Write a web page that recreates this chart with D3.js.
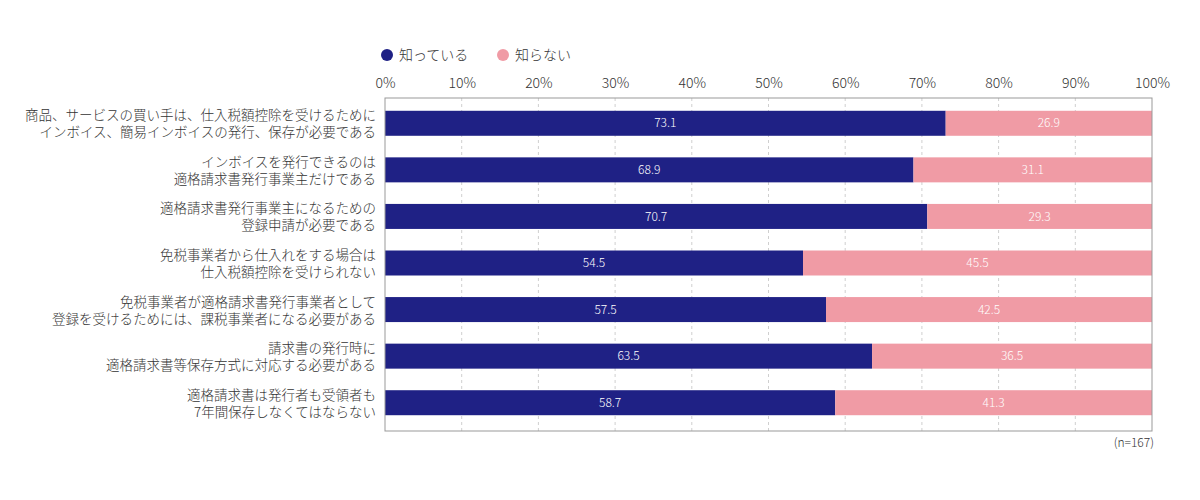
<!DOCTYPE html>
<html>
<head>
<meta charset="utf-8">
<script src="https://cdn.jsdelivr.net/npm/d3@7/dist/d3.min.js"></script>
<style>
  html, body { margin: 0; padding: 0; background: #fff; }
  svg text { font-family: "Noto Sans CJK JP", "Noto Sans", sans-serif; font-weight: 300; }
</style>
</head>
<body>
<div id="chart"></div>
<script>
// 設問（2行ずつ）
const categories = [
  ['商品、サービスの買い手は、仕入税額控除を受けるために', 'インボイス、簡易インボイスの発行、保存が必要である'],
  ['インボイスを発行できるのは', '適格請求書発行事業主だけである'],
  ['適格請求書発行事業主になるための', '登録申請が必要である'],
  ['免税事業者から仕入れをする場合は', '仕入税額控除を受けられない'],
  ['免税事業者が適格請求書発行事業者として', '登録を受けるためには、課税事業者になる必要がある'],
  ['請求書の発行時に', '適格請求書等保存方式に対応する必要がある'],
  ['適格請求書は発行者も受領者も', '7年間保存しなくてはならない']
]
const seriesNames = ['知っている', '知らない']
const knowValues = [73.1, 68.9, 70.7, 54.5, 57.5, 63.5, 58.7]
const unknownValues = [26.9, 31.1, 29.3, 45.5, 42.5, 36.5, 41.3]
const tickValues = [0, 10, 20, 30, 40, 50, 60, 70, 80, 90, 100]
const sampleNote = '(n=167)'

const width = 1200
const height = 500
const colors = ['#1f2185', '#f09ba5']
const box = { left: 385, right: 1152, top: 98, bottom: 431 }
const barHeight = 25

const svg = d3.select('#chart')
  .append('svg')
  .attr('width', width)
  .attr('height', height)

const x = d3.scaleLinear().domain([0, 100]).range([box.left, box.right])
const y = d3.scaleBand()
  .domain(d3.range(categories.length))
  .range([box.top + 2, box.bottom - 5])

// 破線グリッド
svg.append('g')
  .selectAll('line')
  .data(tickValues.slice(1, -1))
  .enter()
  .append('line')
  .attr('x1', d => x(d))
  .attr('x2', d => x(d))
  .attr('y1', box.top)
  .attr('y2', box.bottom)
  .attr('stroke', '#cfcfcf')
  .attr('stroke-width', 1)
  .attr('stroke-dasharray', '3,3')

// 上部の目盛りラベル
const axis = d3.axisTop(x)
  .tickValues(tickValues)
  .tickFormat(d => d + '%')
  .tickSize(0)
  .tickPadding(0)
const axisG = svg.append('g')
  .attr('transform', `translate(0, ${box.top - 10})`)
  .call(axis)
axisG.select('.domain').remove()
axisG.selectAll('text')
  .attr('font-size', 14)
  .attr('fill', '#333')
  .style('font-family', '"Noto Sans CJK JP", sans-serif')
  .style('font-weight', 300)

// 積み上げデータ
const rows = knowValues.map((v, i) => ({ i, values: [v, unknownValues[i]] }))

const rowG = svg.append('g')
  .selectAll('g')
  .data(rows)
  .enter()
  .append('g')
  .attr('transform', d => `translate(0, ${y(d.i) + y.bandwidth() / 2 - barHeight / 2})`)

rowG.each(function (d) {
  const g = d3.select(this)
  let acc = 0
  d.values.forEach((v, k) => {
    const x0 = x(acc)
    const x1 = x(acc + v)
    g.append('rect')
      .attr('x', x0)
      .attr('y', 0)
      .attr('width', x1 - x0)
      .attr('height', barHeight)
      .attr('fill', colors[k])
    g.append('text')
      .attr('x', (x0 + x1) / 2)
      .attr('y', barHeight / 2)
      .attr('dy', '0.35em')
      .attr('text-anchor', 'middle')
      .attr('font-size', 12)
      .attr('fill', '#fff')
      .text(v.toFixed(1))
    acc += v
  })
})

// 枠線
svg.append('rect')
  .attr('x', box.left)
  .attr('y', box.top)
  .attr('width', box.right - box.left)
  .attr('height', box.bottom - box.top)
  .attr('fill', 'none')
  .attr('stroke', '#999')
  .attr('stroke-width', 1)

// 左の設問ラベル
const labelG = svg.append('g')
  .selectAll('text')
  .data(categories)
  .enter()
  .append('text')
  .attr('text-anchor', 'end')
  .attr('font-size', 13.5)
  .attr('fill', '#333')
labelG.each(function (d, i) {
  const cy = y(i) + y.bandwidth() / 2
  d3.select(this).selectAll('tspan')
    .data(d)
    .enter()
    .append('tspan')
    .attr('x', 376)
    .attr('y', (t, k) => cy + (k === 0 ? -3 : 14))
    .text(t => t)
})

// 凡例
const legendX = [387, 503]
const legendG = svg.append('g')
  .selectAll('g')
  .data(seriesNames)
  .enter()
  .append('g')
  .attr('transform', (d, i) => `translate(${legendX[i]}, 55)`)
legendG.append('circle')
  .attr('r', 6)
  .attr('fill', (d, i) => colors[i])
legendG.append('text')
  .attr('x', 12)
  .attr('dy', '0.35em')
  .attr('font-size', 14)
  .attr('fill', '#333')
  .text(d => d)

// サンプル数
svg.append('text')
  .attr('x', 1154)
  .attr('y', 447)
  .attr('text-anchor', 'end')
  .attr('font-size', 12)
  .attr('fill', '#333')
  .text(sampleNote)
</script>
</body>
</html>
